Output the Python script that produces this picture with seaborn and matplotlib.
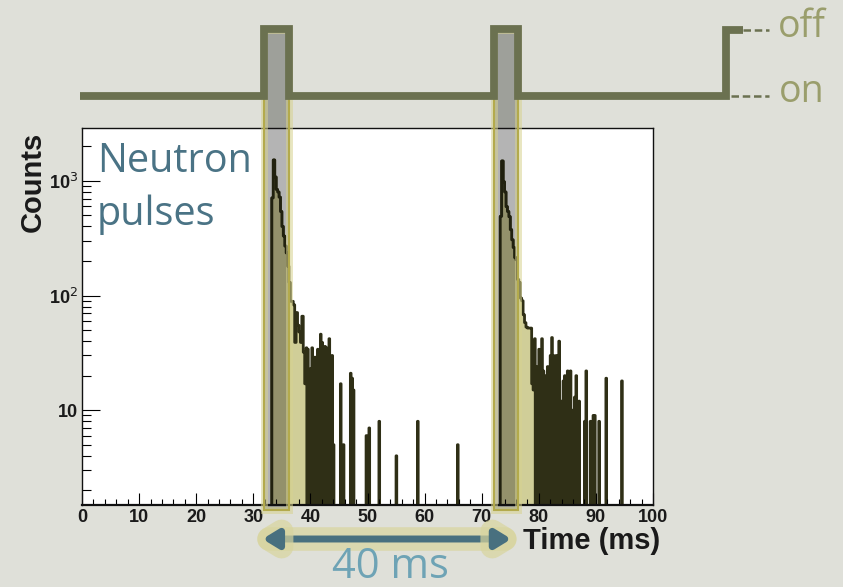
import numpy as np
import pandas as pd
import matplotlib
matplotlib.use("Agg")
import matplotlib.pyplot as plt
import matplotlib.patheffects as pe
from matplotlib import transforms
from matplotlib.patches import Rectangle
from matplotlib.ticker import FixedLocator, LogLocator, MultipleLocator, NullFormatter
import seaborn as sns

# readings of the histogram on a 0.25 ms grid (left edge, ms) and counts per bin
pulse1_t = [33.25, 33.5, 33.75, 34.0, 34.25, 34.5, 34.75, 35.0, 35.25, 35.5, 35.75, 36.0,
            36.25, 36.5, 36.75, 37.0, 37.25, 37.5, 37.75, 38.0, 38.25, 38.5, 38.75, 39.0,
            39.25, 39.5, 40.0, 40.25, 40.5, 40.75, 41.0, 41.25, 41.5, 41.75, 42.0,
            42.25, 42.5, 42.75, 43.0, 43.25, 43.5, 43.75, 44.0, 45.25, 45.75, 47.0, 47.25,
            47.5, 49.75, 50.25, 52.0, 55.0, 58.75, 65.75]
pulse1_counts = [710, 1520, 1080, 840, 800, 720, 540, 400, 330, 270, 235, 180,
                 130, 89, 89, 83, 39, 71, 55, 48, 39, 66, 32, 17,
                 35, 34, 23, 35, 8, 29, 26, 34, 5, 46, 39,
                 14, 36, 35, 6, 42, 24, 30, 5, 17, 5, 21, 19,
                 15, 6, 7, 8, 4, 8, 5]
pulse2_t = [73.25, 73.5, 73.75, 74.0, 74.25, 74.5, 74.75, 75.0, 75.25, 75.5, 75.75, 76.0,
            76.25, 76.5, 76.75, 77.0, 77.25, 77.5, 77.75, 78.0, 78.25, 78.5, 78.75, 79.0,
            79.25, 79.5, 80.0, 80.25, 80.5, 80.75, 81.0, 81.25, 81.5, 82.0,
            82.25, 82.5, 82.75, 83.0, 83.5, 83.75, 84.0, 84.25, 84.5, 84.75, 85.0,
            85.5, 85.75, 86.0, 86.25, 86.5, 87.0, 88.0, 88.25, 89.0, 89.5,
            89.75, 90.5, 91.75, 94.5]
pulse2_counts = [490, 1490, 980, 800, 595, 540, 487, 375, 306, 262, 214, 205,
                 138, 130, 95, 90, 68, 58, 53, 52, 52, 52, 17, 15,
                 42, 24, 34, 28, 42, 22, 20, 10, 24, 30,
                 43, 30, 10, 30, 40, 9, 12, 18, 20, 8, 22,
                 22, 10, 10, 13, 20, 12, 8, 22, 8, 9,
                 9, 8, 19, 18]
# end of the continuous part of each pulse (ms); after it only isolated spikes
core_end = [39.1, 79.1]

# beam timing (ms): shutter opens / closes
pulse_on = [31.8, 72.1]
pulse_off = [36.3, 76.4]

fine = 0.125
edges = np.arange(0, 100 + fine / 2, fine)
counts = np.zeros(len(edges) - 1)
for ts, cs, end in [(pulse1_t, pulse1_counts, core_end[0]),
                    (pulse2_t, pulse2_counts, core_end[1])]:
    for t, c in zip(ts, cs):
        i = int(round(t / fine))
        counts[i] = c
        if t < end:
            counts[i + 1] = c
df = pd.DataFrame({"time": edges[:-1] + fine / 2, "counts": counts})

bg = "#dfe0d9"
olive = "#6b7150"
fig = plt.figure(figsize=(8.43, 5.87), dpi=100, facecolor=bg)
ax = fig.add_axes([82 / 843, 1 - 505 / 587, 571 / 843, 377 / 587])
ax.set_facecolor("white")

plt.rcParams["mathtext.fontset"] = "custom"
plt.rcParams["mathtext.rm"] = "Liberation Sans:bold"
plt.rcParams["mathtext.it"] = "Liberation Sans:bold"
plt.rcParams["mathtext.bf"] = "Liberation Sans:bold"

trans = transforms.blended_transform_factory(ax.transData, fig.transFigure)
trans_ax = transforms.blended_transform_factory(ax.transData, ax.transAxes)
def fy(px):
    return 1 - px / 587

# shaded windows, drawn under the histogram (gray acts like a multiply overlay)
for a, b in zip(pulse_on, pulse_off):
    ax.add_patch(Rectangle((a, fy(510)), b - a, fy(30) - fy(510), transform=trans,
                           clip_on=False, facecolor="#9ea09a", edgecolor="none", zorder=0.6))
    ax.add_patch(Rectangle((a, 0), b - a, 1, transform=trans_ax, facecolor="#b4b4b4",
                           edgecolor="none", zorder=0.7))

sns.histplot(data=df, x="time", weights="counts", bins=edges.tolist(), element="step",
             fill=True, facecolor="#d0ce98", edgecolor="#2f2f16", linewidth=2.0, alpha=1,
             ax=ax)
# same histogram again, darkened, seen through the gray windows
for a, b in zip(pulse_on, pulse_off):
    sns.histplot(data=df, x="time", weights="counts", bins=edges.tolist(), element="step",
                 fill=True, facecolor="#93916b", edgecolor="#21210f", linewidth=2.0,
                 alpha=1, ax=ax)
    clip = Rectangle((a, 0), b - a, 1, transform=trans_ax)
    ax.collections[-1].set_clip_path(clip)

ax.set_yscale("log")
ax.set_xlim(0, 100)
ax.set_ylim(1.49, 2890)
ax.set_xlabel("")
ax.set_ylabel("")

for s in ["left", "bottom", "top", "right"]:
    ax.spines[s].set_linewidth(1.0)
    ax.spines[s].set_color("#111111")
ax.spines["bottom"].set_linewidth(1.6)

ax.xaxis.set_major_locator(MultipleLocator(10))
ax.xaxis.set_minor_locator(MultipleLocator(2))
ax.yaxis.set_major_locator(FixedLocator([10, 100, 1000]))
ax.set_yticklabels(["10", "10$^{2}$", "10$^{3}$"])
ax.yaxis.set_minor_locator(LogLocator(base=10, subs=np.arange(2, 10)))
ax.yaxis.set_minor_formatter(NullFormatter())
ax.tick_params(axis="x", which="major", direction="in", length=8.5, width=0.8, pad=3,
               labelsize=13)
ax.tick_params(axis="x", which="minor", direction="in", length=4.3, width=0.8)
ax.tick_params(axis="y", which="major", direction="in", length=13, width=0.8, pad=3,
               labelsize=13)
ax.tick_params(axis="y", which="minor", direction="in", length=6.5, width=0.8)
for lab in ax.get_xticklabels() + ax.get_yticklabels():
    lab.set_fontfamily("Liberation Sans")
    lab.set_fontweight("bold")
    lab.set_color("#1a1a1a")

# yellowish rims of the windows
for a, b in zip(pulse_on, pulse_off):
    r = Rectangle((a, fy(510)), b - a, fy(30) - fy(510), transform=trans, clip_on=False,
                  facecolor="none", edgecolor="#b3aa4c", linewidth=1.5, zorder=3)
    r.set_path_effects([pe.Stroke(linewidth=5, foreground="#d6d28f", alpha=0.55), pe.Normal()])
    ax.add_patch(r)

# timing diagram on top
y_on, y_off = fy(96), fy(29)
tx = [-0.35]
ty = [y_on]
for a, b in zip(pulse_on, pulse_off):
    tx += [a, a, b, b]
    ty += [y_on, y_off, y_off, y_on]
tx += [112.8, 112.8, 115.8]
ty += [y_on, fy(30), fy(30)]
ax.plot(tx, ty, transform=trans, clip_on=False, color=olive, lw=5.6,
        solid_joinstyle="miter", solid_capstyle="butt", zorder=5)
ax.plot([115.8, 120.3], [fy(30)] * 2, transform=trans, clip_on=False, color=olive,
        lw=1.8, ls=(0, (3, 1.5)), zorder=5)
ax.plot([113.6, 120.3], [fy(96)] * 2, transform=trans, clip_on=False, color=olive,
        lw=1.8, ls=(0, (3, 1.5)), zorder=5)
fig.text(778 / 843, fy(37), "off", fontsize=27, family="Open Sans", color="#9a9e6c",
         va="baseline", ha="left")
fig.text(779 / 843, fy(102), "on", fontsize=27, family="Open Sans", color="#9a9e6c",
         va="baseline", ha="left")

# annotations
ax.text(0.026, 1 - 44 / 377, "Neutron", transform=ax.transAxes, fontsize=28.5,
        family="Open Sans", color="#4a7385", va="baseline", ha="left", zorder=6)
ax.text(0.026, 1 - 97 / 377, "pulses", transform=ax.transAxes, fontsize=28.5,
        family="Open Sans", color="#4a7385", va="baseline", ha="left", zorder=6)

arrow_y = fy(539)
ax.annotate("", xy=(75.2, arrow_y), xycoords=("data", "figure fraction"),
            xytext=(31.6, arrow_y), textcoords=("data", "figure fraction"),
            annotation_clip=False,
            arrowprops=dict(arrowstyle="<|-|>,head_length=0.9,head_width=0.55",
                            color="#48707f", lw=5, shrinkA=0, shrinkB=0,
                            path_effects=[pe.Stroke(linewidth=17, foreground="#d8d59e",
                                                    alpha=0.7), pe.Normal()]))
fig.text(390 / 843, fy(578), "40 ms", fontsize=30, family="Open Sans", color="#6ea3b5",
         ha="center", va="baseline")

fig.text(33 / 843, fy(132), "Counts", rotation=90, fontsize=21, family="Liberation Sans",
         fontweight="bold", color="#1a1a1a", ha="center", va="top")
fig.text(660 / 843, fy(541), "Time (ms)", fontsize=21, family="Liberation Sans",
         fontweight="bold", color="#1a1a1a", ha="right", va="center")

fig.savefig("out.png", dpi=100, facecolor=bg)
